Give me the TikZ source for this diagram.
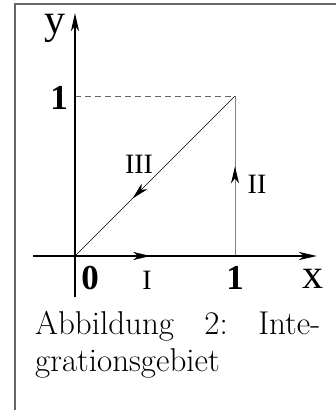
\documentclass[tikz,border=0pt]{standalone}
\usepackage{fontspec}
\newfontfamily\lbl{Liberation Serif}
\usetikzlibrary{arrows.meta,decorations.markings}
\begin{document}
\begin{tikzpicture}[x=1pt,y=-1pt,
  frame/.style={draw=black!60,line width=1.3pt},
  axis/.style={line width=2.6pt,-{Stealth[length=18pt,width=8pt,inset=5pt]}},
  thinline/.style={line width=0.6pt},
  greyline/.style={draw=black!50,line width=0.9pt},
  dashline/.style={draw=black!60,line width=0.7pt,dash pattern=on 6pt off 4pt},
  lab/.style={font=\lbl\fontsize{28}{32}\selectfont,inner sep=0pt,anchor=base},
  num/.style={font=\lbl\bfseries\fontsize{35}{40}\selectfont,inner sep=0pt,anchor=base},
  var/.style={font=\lbl\fontsize{42}{48}\selectfont,inner sep=0pt,anchor=base},
  captext/.style={font=\fontsize{33}{37}\selectfont,inner sep=0pt,anchor=north west,text width=285pt,align=left},
  midarrow/.style={postaction={decorate},decoration={markings,
     mark=at position #1 with {\arrow[black]{Stealth[length=17pt,width=8pt,inset=5pt]}}}}
]
\useasboundingbox (0,0) rectangle (335,410);
% frame
\coordinate (F1) at (15,412);
\coordinate (F2) at (15,4);
\coordinate (F3) at (337,4);
\draw[frame] (F1) -- (F2) -- (F3);
% points
\coordinate (O) at (75,256);
\coordinate (A) at (235,256);
\coordinate (B) at (235,96);
\coordinate (Y1) at (75,96);
\coordinate (xs) at (33,256);
\coordinate (xe) at (317,256);
\coordinate (ys) at (75,297);
\coordinate (ye) at (75,13);
% auxiliary lines
\draw[dashline] (Y1) -- (B);
\draw[greyline,midarrow=0.56] (A) -- (B);
\draw[thinline,midarrow=0.64] (B) -- (O);
% axes
\draw[axis] (xs) -- (xe);
\draw[axis] (ys) -- (ye);
\path[midarrow=0.47] (O) -- (A);
% labels
\node[var] (ly) at (55,33) {y};
\node[var] (lx) at (313,288) {x};
\node[num] (l1y) at (59,109) {1};
\node[num] (l0) at (90,289) {0};
\node[num] (l1x) at (235,289) {1};
\node[lab] (lI) at (147,289) {I};
\node[lab] (lII) at (257,193) {II};
\node[lab] (lIII) at (139,173) {III};
% caption
\node[captext] (caption) at (35,311) {Abbildung\hfill 2:\hfill Inte-\\grationsgebiet};
\end{tikzpicture}
\end{document}
